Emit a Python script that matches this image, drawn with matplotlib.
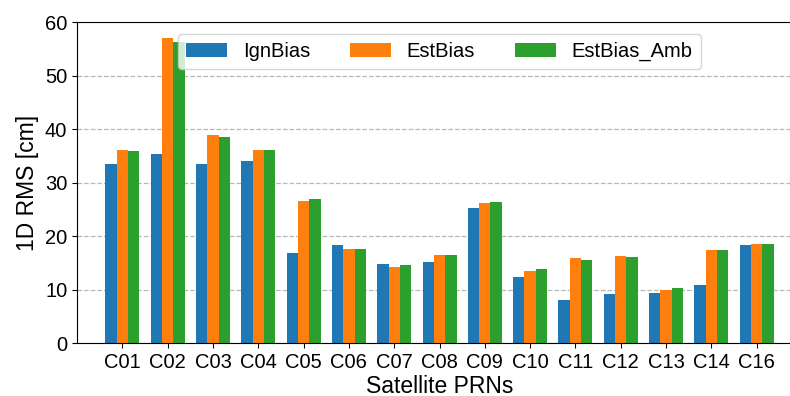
import numpy as np
import matplotlib
matplotlib.use('Agg')
import matplotlib.pyplot as plt

plt.rcParams['font.family'] = ['Liberation Sans', 'DejaVu Sans']

prns = ['C01', 'C02', 'C03', 'C04', 'C05', 'C06', 'C07', 'C08',
        'C09', 'C10', 'C11', 'C12', 'C13', 'C14', 'C16']
ign_bias = [33.4, 35.3, 33.4, 34.0, 16.8, 18.4, 14.8, 15.1,
            25.3, 12.3, 8.1, 9.1, 9.4, 10.9, 18.4]
est_bias = [36.0, 57.0, 38.8, 36.1, 26.5, 17.6, 14.3, 16.4,
            26.2, 13.5, 15.8, 16.3, 10.0, 17.4, 18.5]
est_bias_amb = [35.8, 56.3, 38.6, 36.1, 27.0, 17.6, 14.5, 16.5,
                26.4, 13.8, 15.5, 16.0, 10.3, 17.3, 18.5]

fig = plt.figure(figsize=(7.9, 3.96), dpi=100)
# axes runs a little past the right edge of the figure
ax = fig.add_axes([0.0975, 0.1338, 0.9177, 0.8106])

x = np.arange(len(prns))
w = 0.25
ax.bar(x - w, ign_bias, w, color='#1f77b4', label='IgnBias')
ax.bar(x, est_bias, w, color='#ff7f0e', label='EstBias')
ax.bar(x + w, est_bias_amb, w, color='#2ca02c', label='EstBias_Amb')

ax.set_xlim(-1, 15)
ax.set_ylim(0, 60)
ax.set_xticks(x)
ax.set_xticklabels(prns)
ax.set_yticks(range(0, 61, 10))
ax.tick_params(labelsize=14.5)
ax.set_axisbelow(True)
ax.yaxis.grid(True, linestyle='--', color='#b8b8b8', linewidth=0.9)
ax.spines['right'].set_visible(False)

ax.set_xlabel('Satellite PRNs', fontsize=16.5, labelpad=2)
ax.set_ylabel('1D RMS [cm]', fontsize=16.5)
ax.legend(loc='upper center', ncol=3, fontsize=14.5, borderpad=0.4,
          borderaxespad=0.6)

plt.savefig('out.png', dpi=100)
